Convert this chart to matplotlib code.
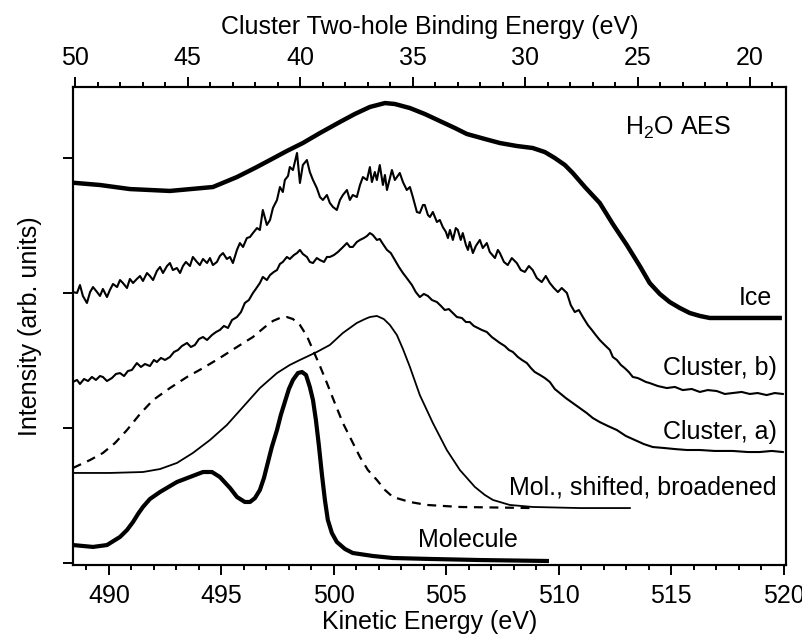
import numpy as np
import matplotlib
matplotlib.use('Agg')
import matplotlib.pyplot as plt
from matplotlib.ticker import MultipleLocator

plt.rcParams['font.family'] = ['Liberation Sans', 'DejaVu Sans']
plt.rcParams['mathtext.fontset'] = 'custom'
plt.rcParams['mathtext.rm'] = 'Liberation Sans'

# kinetic energy (eV) / intensity (arb. units, traces offset)
ice_ke = [488.53, 489.60, 490.93, 492.71, 494.62, 495.69, 496.49, 497.16, 497.91, 498.62,
          499.38, 500.27, 500.93, 501.60, 502.27, 502.71, 503.38, 504.04, 504.71, 505.38,
          505.91, 506.71, 507.38, 508.13, 508.84, 509.38, 509.82, 510.27, 510.62, 511.16,
          511.82, 512.40, 513.02, 513.60, 514.04, 514.49, 514.93, 515.38, 515.82, 516.27,
          516.71, 519.82]
ice_int = [2.815, 2.800, 2.770, 2.756, 2.785, 2.859, 2.926, 2.985, 3.052, 3.111,
           3.185, 3.267, 3.326, 3.378, 3.407, 3.400, 3.370, 3.326, 3.274, 3.222,
           3.178, 3.141, 3.111, 3.089, 3.074, 3.044, 3.0, 2.948, 2.889, 2.785,
           2.667, 2.511, 2.356, 2.2, 2.074, 1.993, 1.933, 1.889, 1.852, 1.830,
           1.815, 1.815]

clb_ke = [488.40, 488.58, 488.71, 488.84, 489.02, 489.16, 489.29, 489.47, 489.60, 489.73,
          489.91, 490.04, 490.18, 490.36, 490.49, 490.62, 490.80, 490.93, 491.07, 491.24,
          491.38, 491.51, 491.69, 491.82, 491.96, 492.13, 492.27, 492.40, 492.58, 492.71,
          492.84, 493.02, 493.16, 493.29, 493.42, 493.60, 493.73, 493.91, 494.04, 494.18,
          494.36, 494.49, 494.62, 494.80, 494.93, 495.07, 495.24, 495.38, 495.51, 495.69,
          495.82, 495.96, 496.13, 496.27, 496.40, 496.58, 496.71, 496.84, 497.02, 497.16,
          497.29, 497.47, 497.60, 497.73, 497.82, 497.96, 498.04, 498.18, 498.36, 498.49,
          498.62, 498.80, 498.93, 499.07, 499.24, 499.38, 499.51, 499.69, 499.82, 499.96,
          500.13, 500.27, 500.40, 500.58, 500.71, 500.84, 501.02, 501.16, 501.29, 501.47,
          501.60, 501.69, 501.82, 501.91, 502.04, 502.18, 502.27, 502.36, 502.49, 502.58,
          502.71, 502.93, 503.07, 503.24, 503.38, 503.51, 503.69, 503.82, 503.96, 504.04,
          504.18, 504.27, 504.40, 504.58, 504.71, 504.84, 504.98, 505.07, 505.16, 505.29,
          505.42, 505.51, 505.64, 505.73, 505.87, 505.96, 506.04, 506.18, 506.31, 506.49,
          506.62, 506.80, 506.93, 507.16, 507.29, 507.38, 507.56, 507.73, 507.91, 508.13,
          508.31, 508.49, 508.67, 508.84, 509.02, 509.24, 509.42, 509.60, 509.78, 509.96,
          510.13, 510.36, 510.53, 510.71, 510.89, 511.07, 511.29, 511.47, 511.64, 511.82,
          512.04, 512.27, 512.40, 512.58, 512.76, 512.93, 513.11, 513.29, 513.51, 513.69,
          513.87, 514.04, 514.40, 514.80, 515.16, 515.51, 515.91, 516.27, 516.62, 517.02,
          517.38, 517.73, 518.13, 518.49, 518.84, 519.24, 519.60, 519.96]
clb_int = [2.007, 2.000, 2.059, 1.978, 1.926, 2.007, 2.044, 2.007, 1.978, 2.030,
           1.970, 2.022, 2.067, 2.044, 2.096, 2.074, 2.037, 2.104, 2.074, 2.104,
           2.126, 2.089, 2.148, 2.126, 2.096, 2.163, 2.193, 2.148, 2.200, 2.222,
           2.170, 2.185, 2.148, 2.200, 2.230, 2.200, 2.267, 2.230, 2.207, 2.252,
           2.222, 2.259, 2.207, 2.230, 2.274, 2.296, 2.252, 2.267, 2.222, 2.319,
           2.370, 2.341, 2.407, 2.415, 2.444, 2.481, 2.467, 2.615, 2.504, 2.541,
           2.630, 2.689, 2.785, 2.748, 2.837, 2.867, 2.933, 2.911, 3.037, 2.815,
           2.948, 2.985, 2.896, 2.837, 2.778, 2.711, 2.689, 2.726, 2.667, 2.637,
           2.615, 2.689, 2.726, 2.763, 2.689, 2.726, 2.711, 2.800, 2.859, 2.837,
           2.933, 2.822, 2.896, 2.837, 2.948, 2.800, 2.874, 2.763, 2.852, 2.911,
           2.837, 2.889, 2.822, 2.763, 2.785, 2.711, 2.600, 2.593, 2.652, 2.652,
           2.578, 2.563, 2.600, 2.526, 2.541, 2.489, 2.452, 2.407, 2.467, 2.393,
           2.481, 2.467, 2.393, 2.444, 2.356, 2.319, 2.378, 2.296, 2.348, 2.393,
           2.333, 2.370, 2.304, 2.259, 2.319, 2.296, 2.230, 2.207, 2.259, 2.222,
           2.170, 2.156, 2.200, 2.170, 2.111, 2.081, 2.126, 2.074, 2.037, 2.007,
           2.037, 2.000, 1.911, 1.859, 1.874, 1.822, 1.763, 1.726, 1.689, 1.652,
           1.615, 1.578, 1.526, 1.504, 1.467, 1.444, 1.415, 1.378, 1.370, 1.356,
           1.341, 1.333, 1.311, 1.296, 1.304, 1.281, 1.289, 1.267, 1.281, 1.274,
           1.252, 1.259, 1.267, 1.252, 1.259, 1.244, 1.259, 1.252]

cla_ke = [488.40, 488.58, 488.71, 488.89, 489.07, 489.24, 489.42, 489.60, 489.73, 489.91,
          490.13, 490.31, 490.49, 490.67, 490.84, 491.02, 491.24, 491.42, 491.60, 491.82,
          492.00, 492.13, 492.31, 492.49, 492.71, 492.89, 493.07, 493.24, 493.47, 493.64,
          493.82, 494.00, 494.18, 494.36, 494.58, 494.76, 494.93, 495.11, 495.29, 495.47,
          495.69, 495.87, 496.04, 496.22, 496.40, 496.53, 496.71, 496.84, 497.02, 497.16,
          497.33, 497.47, 497.60, 497.73, 497.91, 498.04, 498.22, 498.36, 498.49, 498.62,
          498.80, 498.93, 499.07, 499.24, 499.38, 499.56, 499.69, 499.82, 500.00, 500.18,
          500.36, 500.58, 500.71, 500.84, 501.02, 501.16, 501.33, 501.47, 501.60, 501.73,
          501.91, 502.04, 502.18, 502.36, 502.53, 502.71, 502.89, 503.07, 503.24, 503.47,
          503.64, 503.82, 504.00, 504.18, 504.36, 504.58, 504.76, 504.93, 505.11, 505.29,
          505.47, 505.69, 505.87, 506.04, 506.22, 506.40, 506.58, 506.80, 507.02, 507.20,
          507.38, 507.60, 507.78, 507.96, 508.18, 508.36, 508.58, 508.76, 508.93, 509.16,
          509.38, 509.60, 509.82, 510.04, 510.31, 510.62, 510.93, 511.24, 511.51, 511.82,
          512.18, 512.58, 512.98, 513.38, 513.78, 514.18, 514.67, 515.16, 515.69, 516.27,
          516.93, 517.73, 518.40, 518.93, 519.47, 519.96]
cla_int = [1.341, 1.356, 1.326, 1.363, 1.348, 1.378, 1.356, 1.385, 1.378, 1.348,
           1.370, 1.400, 1.407, 1.385, 1.422, 1.430, 1.481, 1.452, 1.474, 1.459,
           1.504, 1.489, 1.519, 1.504, 1.526, 1.563, 1.578, 1.607, 1.630, 1.600,
           1.615, 1.659, 1.674, 1.652, 1.689, 1.711, 1.726, 1.756, 1.741, 1.800,
           1.822, 1.859, 1.926, 1.948, 2.000, 2.030, 2.074, 2.119, 2.096, 2.133,
           2.156, 2.170, 2.215, 2.230, 2.267, 2.252, 2.281, 2.296, 2.319, 2.289,
           2.267, 2.230, 2.222, 2.259, 2.244, 2.230, 2.267, 2.267, 2.281, 2.304,
           2.333, 2.370, 2.341, 2.341, 2.378, 2.393, 2.407, 2.422, 2.444, 2.430,
           2.393, 2.400, 2.363, 2.319, 2.296, 2.244, 2.193, 2.148, 2.111, 2.059,
           2.007, 1.970, 1.993, 1.978, 1.948, 1.933, 1.904, 1.874, 1.881, 1.852,
           1.822, 1.815, 1.785, 1.785, 1.756, 1.741, 1.726, 1.711, 1.674, 1.652,
           1.630, 1.607, 1.578, 1.563, 1.526, 1.504, 1.481, 1.444, 1.415, 1.393,
           1.370, 1.341, 1.289, 1.259, 1.222, 1.185, 1.148, 1.111, 1.074, 1.044,
           1.015, 0.985, 0.941, 0.911, 0.881, 0.859, 0.852, 0.844, 0.837, 0.837,
           0.830, 0.830, 0.822, 0.822, 0.830, 0.822]

molb_ke = [488.40, 490.04, 491.51, 492.27, 493.02, 493.73, 494.49, 495.24, 495.96, 496.71,
           497.47, 498.04, 498.49, 499.24, 499.82, 500.40, 501.02, 501.38, 501.60, 501.91,
           502.22, 502.49, 502.80, 503.07, 503.38, 503.82, 504.40, 505.02, 505.60, 506.27,
           506.71, 507.07, 507.82, 508.84, 510.93, 513.16]
molb_int = [0.667, 0.667, 0.674, 0.696, 0.741, 0.815, 0.911, 1.022, 1.156, 1.296,
            1.407, 1.467, 1.504, 1.563, 1.615, 1.704, 1.778, 1.807, 1.822, 1.830,
            1.807, 1.763, 1.689, 1.585, 1.452, 1.244, 1.037, 0.837, 0.689, 0.563,
            0.504, 0.467, 0.430, 0.415, 0.407, 0.407]

mols_ke = [488.40, 489.16, 489.73, 490.27, 490.80, 491.38, 491.96, 492.71, 493.47, 494.18,
           494.93, 495.69, 496.40, 496.93, 497.29, 497.60, 497.91, 498.18, 498.49, 498.80,
           499.07, 499.38, 499.69, 500.04, 500.40, 500.80, 501.16, 501.51, 501.91, 502.27,
           502.62, 503.38, 504.13, 505.60, 508.84]
mols_int = [0.704, 0.763, 0.815, 0.889, 0.985, 1.104, 1.207, 1.296, 1.378, 1.444,
            1.519, 1.600, 1.674, 1.748, 1.793, 1.815, 1.822, 1.807, 1.763, 1.681,
            1.578, 1.459, 1.333, 1.185, 1.037, 0.904, 0.785, 0.689, 0.615, 0.541,
            0.489, 0.452, 0.430, 0.415, 0.407]

mol_ke = [488.40, 489.29, 489.91, 490.49, 490.80, 491.07, 491.29, 491.51, 491.82, 492.27,
          493.02, 493.60, 494.18, 494.58, 494.93, 495.38, 495.69, 496.04, 496.27, 496.49,
          496.71, 496.89, 497.07, 497.24, 497.47, 497.64, 497.82, 498.00, 498.18, 498.40,
          498.58, 498.76, 498.93, 499.07, 499.20, 499.33, 499.47, 499.60, 499.73, 499.91,
          500.13, 500.49, 500.84, 501.73, 502.62, 504.27, 506.49, 509.47]
mol_int = [0.133, 0.119, 0.133, 0.193, 0.244, 0.304, 0.363, 0.415, 0.474, 0.526,
           0.600, 0.637, 0.674, 0.674, 0.637, 0.556, 0.489, 0.452, 0.452, 0.481,
           0.541, 0.630, 0.748, 0.859, 0.985, 1.096, 1.193, 1.289, 1.356, 1.407,
           1.415, 1.393, 1.304, 1.207, 1.059, 0.874, 0.652, 0.467, 0.319, 0.222,
           0.156, 0.104, 0.074, 0.052, 0.037, 0.030, 0.022, 0.015]

be_offset = 538.5  # two-hole binding energy = offset - kinetic energy
ke_lim = (488.4, 520.1)
fs = 18

fig = plt.figure(figsize=(8.03, 6.35), dpi=100)
ax = fig.add_axes([0.0909, 0.1102, 0.8879, 0.7528])

ax.plot(ice_ke, ice_int, color='black', lw=3.2)
ax.plot(clb_ke, clb_int, color='black', lw=1.5)
ax.plot(cla_ke, cla_int, color='black', lw=1.5)
ax.plot(molb_ke, molb_int, color='black', lw=1.3)
ax.plot(mols_ke, mols_int, color='black', lw=1.6, linestyle=(0, (4, 3)))
ax.plot(mol_ke, mol_int, color='black', lw=3.0)

ax.text(515.29, 3.222, r'H$_\mathregular{2}$O AES', fontsize=fs, ha='center', va='center')
ax.text(519.5, 1.963, 'Ice', fontsize=fs, ha='right', va='center')
ax.text(519.7, 1.444, 'Cluster, b)', fontsize=fs, ha='right', va='center')
ax.text(519.7, 0.970, 'Cluster, a)', fontsize=fs, ha='right', va='center')
ax.text(519.7, 0.556, 'Mol., shifted, broadened', fontsize=fs, ha='right', va='center')
ax.text(503.73, 0.170, 'Molecule', fontsize=fs, ha='left', va='center')

ax.set_xlim(*ke_lim)
ax.set_ylim(-0.015, 3.526)
ax.xaxis.set_major_locator(MultipleLocator(5))
ax.xaxis.set_minor_locator(MultipleLocator(1))
ax.set_yticks([0, 1, 2, 3])
ax.set_yticklabels([])
ax.tick_params(axis='both', which='major', direction='out', length=7, width=1.4,
               labelsize=fs, pad=7)
ax.tick_params(axis='both', which='minor', direction='out', length=3.5, width=1.4)
ax.tick_params(axis='x', which='both', top=False)
ax.tick_params(axis='y', which='both', right=False)
for s in ax.spines.values():
    s.set_linewidth(1.5)

ax.set_xlabel('Kinetic Energy (eV)', fontsize=fs, labelpad=1)
ax.set_ylabel('Intensity (arb. units)', fontsize=fs, labelpad=8)

top = ax.twiny()
top.set_xlim(be_offset - ke_lim[0], be_offset - ke_lim[1])
top.xaxis.set_major_locator(MultipleLocator(5))
top.xaxis.set_minor_locator(MultipleLocator(1))
top.tick_params(axis='x', which='major', direction='out', length=7, width=1.4,
                labelsize=fs, pad=5)
top.tick_params(axis='x', which='minor', direction='out', length=3.5, width=1.4)
for s in top.spines.values():
    s.set_linewidth(1.5)
top.set_xlabel('Cluster Two-hole Binding Energy (eV)', fontsize=fs, labelpad=9)

fig.savefig('out.png', dpi=100)
